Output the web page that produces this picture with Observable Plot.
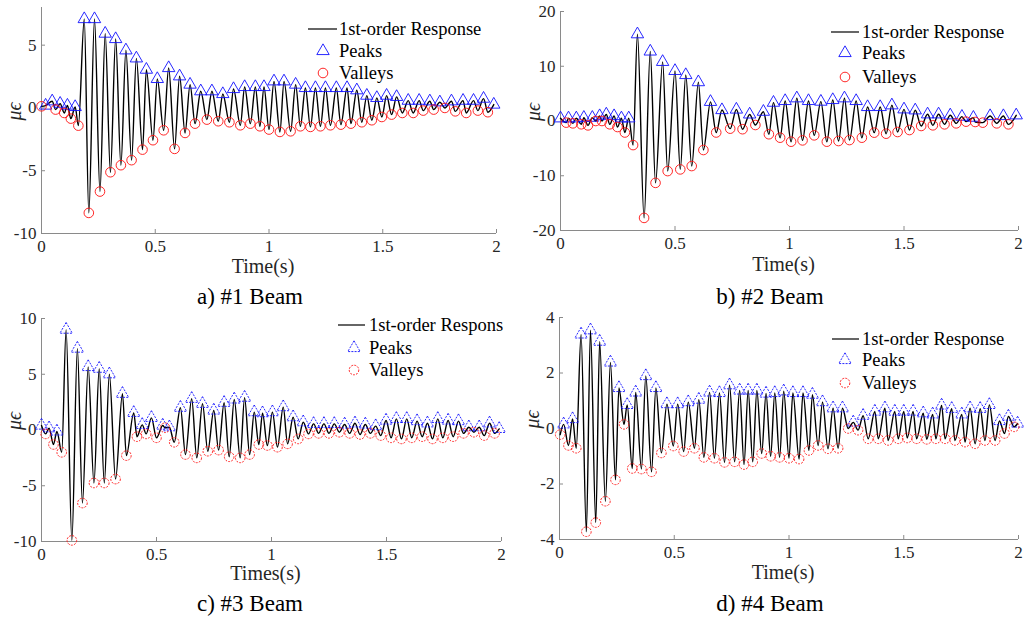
<!DOCTYPE html>
<html><head><meta charset="utf-8">
<script src="https://cdn.jsdelivr.net/npm/d3@7"></script>
<script src="https://cdn.jsdelivr.net/npm/@observablehq/plot@0.6"></script>
<style>
body{margin:0;background:#fff}
#root{position:relative;width:1030px;height:618px;overflow:hidden;background:#fff;font-family:"Liberation Serif","Times New Roman","DejaVu Serif",serif}
.panel{position:absolute}
.panel svg{overflow:visible}
.panel svg text{font-family:"Liberation Serif","Times New Roman","DejaVu Serif",serif}
#leg{position:absolute;left:0;top:0}
#leg text{font-family:"Liberation Serif","Times New Roman","DejaVu Serif",serif}
</style></head>
<body><div id="root"></div>
<script>
// ---- Panel a: #1 Beam ----
const aPeakT = [0.018,0.047,0.082,0.114,0.148,0.188,0.233,0.28,0.326,0.371,0.417,0.461,0.509,0.559,0.607,0.653,0.70,0.749,0.797,0.844,0.893,0.94,0.978,1.022,1.066,1.117,1.160,1.204,1.248,1.296,1.343,1.386,1.430,1.474,1.517,1.561,1.612,1.660,1.707,1.751,1.802,1.853,1.899,1.943,1.988];
const aPeakV = [0.19,0.53,0.34,0.19,0.08,7.08,7.08,5.92,5.49,4.59,3.95,3.05,2.31,3.18,2.52,1.86,1.33,1.33,1.11,1.51,1.67,1.67,1.67,2.12,2.12,1.86,1.59,1.59,1.59,1.59,1.59,1.41,0.98,0.80,0.98,0.88,0.58,0.58,0.53,0.45,0.53,0.58,0.58,0.74,0.27];
const aValT = [0,0.062,0.1,0.129,0.162,0.208,0.257,0.303,0.349,0.396,0.444,0.49,0.537,0.585,0.631,0.675,0.727,0.777,0.826,0.874,0.918,0.96,1.0,1.048,1.095,1.138,1.182,1.226,1.27,1.316,1.36,1.408,1.452,1.496,1.539,1.586,1.634,1.678,1.724,1.773,1.819,1.867,1.918,1.962];
const aValV = [0.13,-0.13,-0.40,-0.85,-1.41,-8.36,-6.66,-5.12,-4.56,-4.16,-3.32,-2.57,-1.78,-3.26,-1.99,-1.25,-0.93,-1.06,-1.14,-1.38,-1.25,-1.46,-1.72,-1.91,-1.86,-1.46,-1.51,-1.46,-1.38,-1.33,-1.25,-1.14,-0.98,-0.72,-0.53,-0.40,-0.40,-0.21,-0.13,0,-0.27,-0.40,-0.21,-0.34];

// ---- Panel b: #2 Beam ----
const bPeakT = [0,0.035,0.069,0.102,0.139,0.171,0.2,0.234,0.266,0.298,0.336,0.392,0.446,0.5,0.547,0.602,0.655,0.705,0.768,0.826,0.886,0.93,0.981,1.032,1.083,1.137,1.189,1.24,1.291,1.341,1.396,1.447,1.5,1.549,1.603,1.651,1.702,1.753,1.803,1.876,1.934,1.99];
const bPeakV = [0.49,0.49,0.49,0.6,0.6,0.9,1.2,0.9,0.49,0.49,15.85,12.7,10.8,9.15,8.4,7.1,3.5,2.0,2.1,1.2,1.7,3.35,3.66,4.15,3.66,3.54,3.84,4.15,3.66,2.56,2.56,2.87,2.13,1.95,1.22,1.22,1.04,0.79,0.61,0.91,0.91,1.04];
const bValT = [0.025,0.054,0.091,0.12,0.154,0.181,0.215,0.249,0.281,0.317,0.365,0.415,0.468,0.523,0.573,0.624,0.68,0.741,0.795,0.851,0.91,0.959,1.007,1.057,1.108,1.163,1.214,1.262,1.316,1.37,1.422,1.472,1.524,1.575,1.626,1.677,1.728,1.771,1.811,1.844,1.905,1.956];
const bValV = [-0.3,-0.43,-0.6,-0.8,0,0,-0.6,-1.1,-2.1,-4.4,-17.7,-11.3,-9.15,-8.84,-8.23,-5.3,-2.1,-1.4,-1.5,-0.73,-2.42,-3.05,-3.78,-3.54,-2.62,-3.78,-3.66,-3.48,-3.05,-2.13,-2.32,-2.01,-1.65,-0.91,-0.79,-0.61,-0.43,-0.12,-0.18,-0.3,-0.43,-0.61];

// ---- Panel c: #3 Beam ----
const cPeakT = [0,0.033,0.067,0.107,0.156,0.203,0.251,0.295,0.352,0.401,0.438,0.478,0.527,0.556,0.604,0.653,0.7,0.749,0.794,0.838,0.883,0.925,0.961,1.004,1.051,1.094,1.138,1.183,1.228,1.273,1.318,1.363,1.408,1.453,1.498,1.543,1.588,1.633,1.678,1.723,1.768,1.813,1.858,1.903,1.948,1.99];
const cPeakV = [0.40,0.16,-0.13,9.0,7.3,5.65,5.5,5.0,3.25,1.54,0.46,1.09,0.40,0.25,2.0,2.8,2.35,1.75,2.44,2.74,2.9,1.6,1.51,1.6,2.05,1.15,0.7,0.55,0.55,0.55,0.5,0.6,0.5,0.35,0.85,1.0,1.0,0.8,0.6,1.0,0.85,0.8,0.25,0.25,0.6,0.1];
const cValT = [0.018,0.052,0.088,0.132,0.178,0.228,0.273,0.322,0.369,0.415,0.455,0.5,0.537,0.577,0.626,0.675,0.723,0.77,0.816,0.864,0.905,0.945,0.982,1.026,1.07,1.116,1.161,1.205,1.25,1.295,1.34,1.385,1.43,1.475,1.52,1.565,1.61,1.655,1.7,1.745,1.79,1.835,1.88,1.925,1.97];
const cValV = [-0.35,-1.3,-2.0,-9.9,-6.55,-4.75,-4.75,-4.4,-2.3,-0.6,-0.35,-0.7,0.2,-1.1,-2.2,-2.5,-1.9,-1.8,-2.4,-2.5,-2.2,-1.3,-1.39,-1.54,-1.24,-0.8,-0.35,-0.3,-0.3,-0.2,-0.3,-0.4,-0.3,-0.5,-0.7,-0.8,-0.7,-0.6,-0.8,-0.7,-0.6,-0.3,-0.2,-0.5,-0.3];

// ---- Panel d: #4 Beam ----
const dPeakT = [0.018,0.057,0.094,0.135,0.175,0.222,0.259,0.295,0.332,0.376,0.42,0.468,0.515,0.561,0.607,0.654,0.697,0.741,0.785,0.822,0.86,0.9,0.938,0.977,1.017,1.061,1.102,1.146,1.192,1.233,1.28,1.323,1.374,1.418,1.461,1.5,1.541,1.585,1.626,1.665,1.709,1.753,1.789,1.833,1.873,1.917,1.956,1.996];
const dPeakV = [0.15,0.34,3.39,3.54,3.13,2.38,1.46,0.85,1.30,1.89,1.46,0.88,0.88,0.95,1.04,1.30,1.28,1.56,1.37,1.37,1.37,1.26,1.28,1.34,1.28,1.28,1.22,0.95,0.73,0.73,0.22,0.46,0.61,0.73,0.61,0.61,0.61,0.55,0.51,0.83,0.71,0.51,0.73,0.71,0.85,0.27,0.43,0.18];
const dValT = [0.003,0.039,0.073,0.117,0.158,0.2,0.244,0.281,0.317,0.357,0.401,0.444,0.496,0.541,0.588,0.629,0.675,0.719,0.763,0.804,0.842,0.881,0.92,0.959,1.0,1.044,1.087,1.127,1.17,1.214,1.258,1.301,1.345,1.389,1.432,1.476,1.515,1.556,1.6,1.64,1.68,1.723,1.767,1.811,1.854,1.898,1.939,1.981];
const dValV = [-0.22,-0.61,-0.71,-3.72,-3.39,-2.62,-1.85,0.15,-1.44,-1.46,-1.56,-0.88,-0.63,-0.83,-0.71,-1.04,-1.07,-1.22,-1.20,-1.30,-1.20,-0.9,-1.0,-1.04,-1.07,-1.10,-0.79,-0.61,-0.73,-0.71,0.0,-0.06,-0.37,-0.37,-0.43,-0.37,-0.34,-0.37,-0.39,-0.37,-0.37,-0.43,-0.49,-0.55,-0.43,-0.43,-0.18,0.06];

// ---- axes / text ----
const xTicks = [0,0.5,1,1.5,2];
const aYTicks = [-10,-5,0,5];
const bYTicks = [-20,-10,0,10,20];
const cYTicks = [-10,-5,0,5,10];
const dYTicks = [-4,-2,0,2,4];
const captions = ["a) #1 Beam","b) #2 Beam","c) #3 Beam","d) #4 Beam"];
const xLabels = ["Time(s)","Time(s)","Times(s)","Time(s)"];
const yLabel = "μϵ";
const legendNames = [["1st-order Response","Peaks","Valleys"],["1st-order Response","Peaks","Valleys"],["1st-order Respons","Peaks","Valleys"],["1st-order Response","Peaks","Valleys"]];

const toPts = (T, V) => T.map((t, i) => ({t, v: V[i]}));
const merge = (P, Q) => P.concat(Q).sort((p, q) => p.t - q.t);

const FONT = '"Liberation Serif","Times New Roman","DejaVu Serif",serif';
const W = 515;
const panels = [
  {left:0,   top:0,   height:275, mL:41, mR:19, mT:7,  mB:42, yDom:[-10,8],  yTicks:aYTicks, P:toPts(aPeakT,aPeakV), V:toPts(aValT,aValV), dashed:false, xdy:33},
  {left:515, top:0,   height:275, mL:45, mR:12, mT:11, mB:45, yDom:[-20,20], yTicks:bYTicks, P:toPts(bPeakT,bPeakV), V:toPts(bValT,bValV), dashed:false, xdy:34},
  {left:0,   top:300, height:285, mL:41, mR:14, mT:18, mB:44, yDom:[-10,10], yTicks:cYTicks, P:toPts(cPeakT,cPeakV), V:toPts(cValT,cValV), dashed:true, xdy:32},
  {left:515, top:300, height:285, mL:44, mR:12, mT:17, mB:46, yDom:[-4,4],   yTicks:dYTicks, P:toPts(dPeakT,dPeakV), V:toPts(dValT,dValV), dashed:true, xdy:33}
];

const root = document.getElementById("root");
const AX = "#8a8a8a";
const TR = 4.6, CR = 4.8;

panels.forEach((c, k) => {
  const fh = c.height - c.mT - c.mB;
  const fw = W - c.mL - c.mR;
  const y0 = c.yDom[0];
  const tickY = (c.yDom[1] - c.yDom[0]) * 4 / fh;
  const tickX = 2 * 4 / fw;
  const dash = c.dashed ? "2,1.2" : null;
  const chart = Plot.plot({
    width: W, height: c.height,
    marginLeft: c.mL, marginRight: c.mR, marginTop: c.mT, marginBottom: c.mB,
    x: {domain: [0, 2]},
    y: {domain: c.yDom},
    style: {fontFamily: FONT, fontSize: "17px", color: "#262626", background: "transparent", overflow: "visible"},
    marks: [
      Plot.axisX({ticks: xTicks, tickSize: 0, tickPadding: 6, tickFormat: d => String(d), fontSize: 17, fontFamily: FONT, label: null}),
      Plot.axisY({ticks: c.yTicks, tickSize: 0, tickPadding: 5, tickFormat: d => String(d), fontSize: 17, fontFamily: FONT, label: null}),
      Plot.ruleX([0], {stroke: AX, strokeWidth: 1}),
      Plot.ruleY([y0], {stroke: AX, strokeWidth: 1}),
      Plot.ruleX(xTicks.slice(1), {y1: y0, y2: y0 + tickY, stroke: AX}),
      Plot.ruleY(c.yTicks.slice(1), {x1: 0, x2: tickX, stroke: AX}),
      Plot.line(merge(c.P, c.V), {x: "t", y: "v", curve: "monotone-x", stroke: "#000", strokeWidth: 1.4}),
      Plot.dot(c.P, {x: "t", y: "v", symbol: "triangle", r: TR, stroke: "#1010ff", fill: "none", strokeWidth: 0.9, strokeDasharray: dash}),
      Plot.dot(c.V, {x: "t", y: "v", symbol: "circle", r: CR, stroke: "#ff1010", fill: "none", strokeWidth: 0.9, strokeDasharray: dash}),
      Plot.text([xLabels[k]], {text: d => d, frameAnchor: "bottom", lineAnchor: "middle", dy: c.xdy, dx: -6, fontSize: 20, fontFamily: FONT, fill: "#262626"}),
      Plot.text([yLabel], {text: d => d, frameAnchor: "left", lineAnchor: "middle", dx: -27, rotate: -90, fontSize: 20, fontFamily: FONT, fontStyle: "italic", fill: "#262626"})
    ]
  });
  const div = document.createElement("div");
  div.className = "panel";
  div.style.left = c.left + "px";
  div.style.top = c.top + "px";
  div.appendChild(chart);
  root.appendChild(div);
});

// legends and captions
const legPos = [
  {x1:308, x2:337, tx:339, sx:323, ys:[29,51,73]},
  {x1:831, x2:859, tx:862, sx:845, ys:[32,53,77]},
  {x1:338, x2:365, tx:369, sx:354, ys:[325,348,370]},
  {x1:832, x2:859, tx:862, sx:845, ys:[339,360,383]}
];
const capPos = [[250,304],[770,304],[250,611],[770,611]];
const svg = d3.select(root).append("svg").attr("id","leg").attr("width",1030).attr("height",618);
legPos.forEach((L, i) => {
  const g = svg.append("g").attr("font-size", 18.5).attr("fill", "#000");
  const dash = panels[i].dashed ? "2,1.2" : null;
  g.append("line").attr("x1", L.x1).attr("x2", L.x2).attr("y1", L.ys[0]).attr("y2", L.ys[0]).attr("stroke", "#000").attr("stroke-width", 1.2);
  g.append("path").attr("d", d3.symbol(d3.symbolTriangle, Math.PI * TR * TR)()).attr("transform", `translate(${L.sx},${L.ys[1]})`)
    .attr("fill", "none").attr("stroke", "#1010ff").attr("stroke-width", 0.9).attr("stroke-dasharray", dash);
  g.append("circle").attr("cx", L.sx).attr("cy", L.ys[2]).attr("r", CR).attr("fill", "none").attr("stroke", "#ff1010").attr("stroke-width", 0.9).attr("stroke-dasharray", dash);
  legendNames[i].forEach((name, j) => {
    g.append("text").attr("x", L.tx).attr("y", L.ys[j]).attr("dy", "0.35em").text(name);
  });
});
captions.forEach((t, i) => {
  svg.append("text").attr("x", capPos[i][0]).attr("y", capPos[i][1]).attr("text-anchor", "middle")
    .attr("font-size", 23).attr("fill", "#000").text(t);
});
</script>
</body></html>
